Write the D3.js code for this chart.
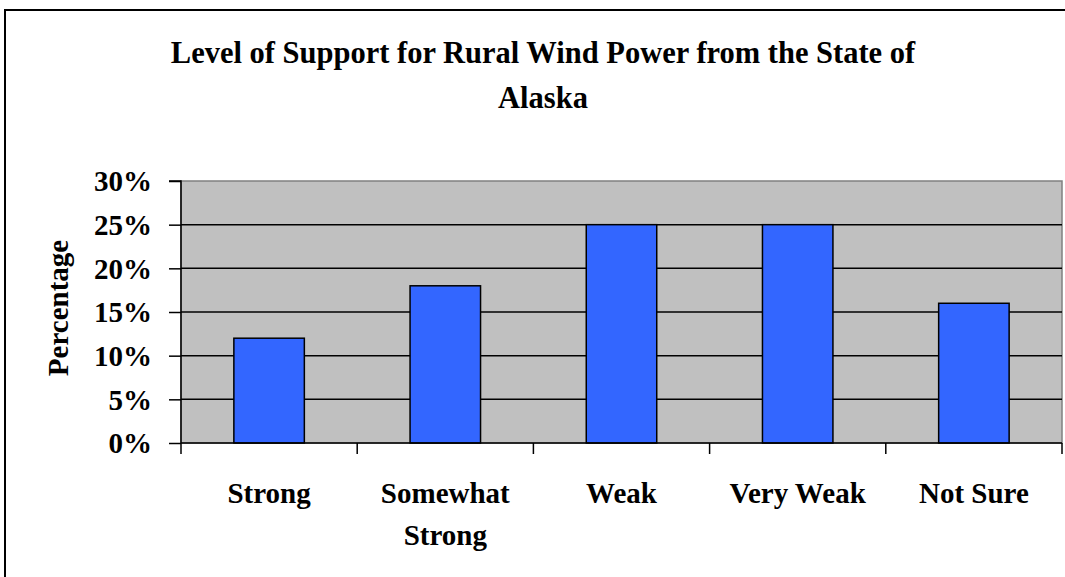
<!DOCTYPE html>
<html>
<head>
<meta charset="utf-8">
<script src="https://cdn.jsdelivr.net/npm/d3@7/dist/d3.min.js"></script>
<style>
  html, body { margin: 0; padding: 0; background: #fff; }
  svg { display: block; }
  text { font-family: "Liberation Serif", "Times New Roman", serif; font-weight: bold; fill: #000; }
</style>
</head>
<body>
<svg id="chart" width="1065" height="577"></svg>
<script>
// Survey responses: level of support for rural wind power from the State of Alaska
const categories = ["Strong", "Somewhat Strong", "Weak", "Very Weak", "Not Sure"];
const categoryLines = [["Strong"], ["Somewhat", "Strong"], ["Weak"], ["Very Weak"], ["Not Sure"]];
const shares = [0.12, 0.18, 0.25, 0.25, 0.16];
const yTicks = [0, 0.05, 0.10, 0.15, 0.20, 0.25, 0.30];
const titleLines = ["Level of Support for Rural Wind Power from the State of", "Alaska"];
const yTitle = "Percentage";

const svg = d3.select("#chart");
const W = 1065, H = 577;

// chart frame
svg.append("rect")
  .attr("x", 5).attr("y", 10)
  .attr("width", W + 40).attr("height", H + 40)
  .attr("fill", "#fff").attr("stroke", "#000").attr("stroke-width", 2);

const plot = { left: 181, right: 1062, top: 181, bottom: 443 };

const x = d3.scaleBand()
  .domain(categories)
  .range([plot.left, plot.right])
  .padding(0);

const y = d3.scaleLinear()
  .domain([0, 0.30])
  .range([plot.bottom, plot.top]);

// plot area background
svg.append("rect")
  .attr("x", plot.left).attr("y", plot.top)
  .attr("width", plot.right - plot.left).attr("height", plot.bottom - plot.top)
  .attr("fill", "#C0C0C0").attr("stroke", "#808080").attr("stroke-width", 1.5);

// horizontal gridlines
svg.append("g")
  .selectAll("line")
  .data(yTicks.filter(t => t > 0 && t < 0.30))
  .join("line")
  .attr("x1", plot.left).attr("x2", plot.right)
  .attr("y1", d => y(d)).attr("y2", d => y(d))
  .attr("stroke", "#000").attr("stroke-width", 1.5);

// bars
const barFrac = 0.4;
svg.append("g")
  .selectAll("rect")
  .data(categories.map((c, i) => ({ c, v: shares[i] })))
  .join("rect")
  .attr("x", d => x(d.c) + x.bandwidth() * (1 - barFrac) / 2)
  .attr("width", x.bandwidth() * barFrac)
  .attr("y", d => y(d.v))
  .attr("height", d => y(0) - y(d.v))
  .attr("fill", "#3366FF")
  .attr("stroke", "#000").attr("stroke-width", 1.5);

// y axis
const yAxis = d3.axisLeft(y)
  .tickValues(yTicks)
  .tickFormat(d3.format(".0%"))
  .tickSize(12)
  .tickPadding(17);
const gy = svg.append("g")
  .attr("transform", `translate(${plot.left},0)`)
  .call(yAxis);
gy.select(".domain").attr("stroke", "#000").attr("stroke-width", 1.5).attr("d", `M-12,${plot.top}H0V${plot.bottom}`);
gy.selectAll(".tick line").attr("stroke", "#000").attr("stroke-width", 1.5);
gy.selectAll(".tick text")
  .attr("font-size", 29)
  .attr("font-family", "Liberation Serif, Times New Roman, serif")
  .attr("font-weight", "bold")
  .attr("dy", "0.34em")
  .attr("fill", "#000");

// x axis: tick marks between categories
const boundaries = categories.map(c => x(c)).concat([x(categories[categories.length - 1]) + x.bandwidth()]);
const gx = svg.append("g");
gx.append("line")
  .attr("x1", plot.left).attr("x2", plot.right)
  .attr("y1", plot.bottom).attr("y2", plot.bottom)
  .attr("stroke", "#000").attr("stroke-width", 1.5);
gx.selectAll("line.tick")
  .data(boundaries)
  .join("line")
  .attr("class", "tick")
  .attr("x1", d => d).attr("x2", d => d)
  .attr("y1", plot.bottom).attr("y2", plot.bottom + 11)
  .attr("stroke", "#000").attr("stroke-width", 1.5);

// category labels
const lab = svg.append("g");
categories.forEach((c, i) => {
  const t = lab.append("text")
    .attr("x", x(c) + x.bandwidth() / 2)
    .attr("y", 503)
    .attr("text-anchor", "middle")
    .attr("font-size", 29);
  categoryLines[i].forEach((ln, j) => {
    t.append("tspan")
      .attr("x", x(c) + x.bandwidth() / 2)
      .attr("dy", j === 0 ? 0 : 42)
      .text(ln);
  });
});

// y axis title
svg.append("text")
  .attr("transform", `translate(68,${(plot.top + plot.bottom) / 2 - 4}) rotate(-90)`)
  .attr("text-anchor", "middle")
  .attr("font-size", 29)
  .text(yTitle);

// chart title
svg.append("text")
  .attr("x", 543).attr("y", 63)
  .attr("text-anchor", "middle")
  .attr("font-size", 30.5)
  .text(titleLines[0]);
svg.append("text")
  .attr("x", 543).attr("y", 108)
  .attr("text-anchor", "middle")
  .attr("font-size", 30.5)
  .text(titleLines[1]);
</script>
</body>
</html>
